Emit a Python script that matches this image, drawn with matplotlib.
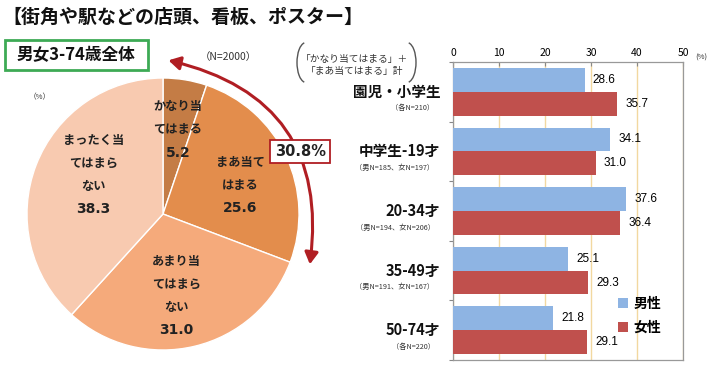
import numpy as np
import matplotlib
matplotlib.use("Agg")
import matplotlib.pyplot as plt
from matplotlib.patches import Rectangle, Arc, FancyArrowPatch
from matplotlib.transforms import blended_transform_factory

plt.rcParams['font.family'] = ['Noto Sans CJK JP', 'DejaVu Sans']

# ---- data ----
pie_labels = ["かなり当\nてはまる", "まあ当て\nはまる", "あまり当\nてはまら\nない", "まったく当\nてはまら\nない"]
pie_values = [5.2, 25.6, 31.0, 38.3]
pie_colors = ["#C47C45", "#E38D4C", "#F5AA7B", "#F8CAB0"]
pie_text_pos = [(0.11, 0.62), (0.57, 0.21), (0.10, -0.60), (-0.51, 0.29)]
top2_total = "30.8%"

groups = ["園児・小学生", "中学生-19才", "20-34才", "35-49才", "50-74才"]
group_n = ["（各N=210）", "（男N=185、女N=197）", "（男N=194、女N=206）",
           "（男N=191、女N=167）", "（各N=220）"]
male = [28.6, 34.1, 37.6, 25.1, 21.8]
female = [35.7, 31.0, 36.4, 29.3, 29.1]

W, H = 710, 375
fig = plt.figure(figsize=(W / 100, H / 100), dpi=100)

# ---- pie ----
cx, cy, rpx = 163, 214, 136
L = 1.19
side = 2 * L * rpx
axp = fig.add_axes([(cx - side / 2) / W, (H - cy - side / 2) / H, side / W, side / H])
axp.pie(pie_values, colors=pie_colors, startangle=90, counterclock=False, radius=1,
        wedgeprops=dict(edgecolor="white", linewidth=1))
axp.set_xlim(-L, L)
axp.set_ylim(-L, L)
axp.set_aspect('auto')
axp.axis('off')

dy = 23 / rpx  # line step in pie units
for lab, v, (tx, ty) in zip(pie_labels, pie_values, pie_text_pos):
    lines = lab.split("\n")
    n = len(lines) + 1
    y0 = ty + dy * (n - 1) / 2
    for i, ln in enumerate(lines):
        axp.text(tx, y0 - i * dy, ln, ha='center', va='center', fontsize=8.8,
                 fontweight='bold', color="#222222")
    axp.text(tx, y0 - (n - 1) * dy, f"{v:.1f}", ha='center', va='center', fontsize=10,
             fontweight='bold', color="#222222", family=['DejaVu Sans'])

arrow = FancyArrowPatch((1.08, -0.37), (0.04, 1.13), connectionstyle="arc3,rad=0.45",
                        arrowstyle="<|-|>,head_length=7,head_width=4", color="#B01E23",
                        lw=2.2, clip_on=False, shrinkA=0, shrinkB=0)
axp.add_patch(arrow)
axp.text(1.01, 0.46, top2_total, ha='center', va='center', fontsize=10.5, fontweight='bold',
         color="#222222", zorder=5, family=['DejaVu Sans'],
         bbox=dict(boxstyle="square,pad=0.3", fc="white", ec="#B01E23", lw=1.3))

# ---- bars ----
bx0, bx1, by0, by1 = 453, 683, 62, 360
axb = fig.add_axes([bx0 / W, (H - by1) / H, (bx1 - bx0) / W, (by1 - by0) / H])
y = np.arange(len(groups)) + 0.5
bh = 0.4
axb.barh(y - bh / 2, male, height=bh, color="#8EB4E3", label="男性", zorder=3)
axb.barh(y + bh / 2, female, height=bh, color="#C0504D", label="女性", zorder=3)
for yi, m, f in zip(y, male, female):
    axb.text(m + 1.8, yi - bh / 2, f"{m:.1f}", va='center', ha='left', fontsize=8.5,
             family=['Liberation Sans', 'DejaVu Sans'])
    axb.text(f + 1.8, yi + bh / 2, f"{f:.1f}", va='center', ha='left', fontsize=8.5,
             family=['Liberation Sans', 'DejaVu Sans'])
axb.set_xlim(0, 50)
axb.set_ylim(len(groups), 0)
axb.set_xticks(np.arange(0, 51, 10))
axb.xaxis.tick_top()
axb.tick_params(axis='x', labelsize=7.5, length=3, direction='in', pad=3, color="#888888")
axb.set_yticks(np.arange(0, len(groups) + 1))
axb.set_yticklabels([])
axb.tick_params(axis='y', length=3, direction='out', color="#888888")
axb.grid(axis='x', color="#F2D8A0", lw=1, zorder=0)
for s in axb.spines.values():
    s.set_color("#999999")
    s.set_linewidth(0.9)

tr = blended_transform_factory(axb.transAxes, axb.transData)
for yi, g, n in zip(y, groups, group_n):
    axb.text(-0.055, yi, g, transform=tr, ha='right', va='center', fontsize=10.5,
             fontweight='bold', color="#111111")
    axb.text(-0.08, yi + 0.28, n, transform=tr, ha='right', va='center', fontsize=5.2,
             color="#333333")
leg = axb.legend(loc='upper left', bbox_to_anchor=(0.665, 0.255), frameon=False,
                 handlelength=0.7, handleheight=0.7, handletextpad=0.4, labelspacing=0.75,
                 prop=dict(weight='bold', size=10))

# ---- overlay texts ----
ov = fig.add_axes([0, 0, 1, 1], zorder=10)
ov.set_xlim(0, W)
ov.set_ylim(H, 0)
ov.axis('off')
ov.patch.set_alpha(0)
ov.text(2, 17, "【街角や駅などの店頭、看板、ポスター】", fontsize=13.7, fontweight='bold',
        va='center', ha='left', color="#111111")
ov.add_patch(Rectangle((5, 40), 143, 30, fill=False, ec="#3DAA55", lw=2))
ov.text(76, 55, "男女3-74歳全体", fontsize=12, fontweight='bold', ha='center', va='center',
        color="#111111")
ov.text(228, 57, "（N=2000）", fontsize=7.5, ha='center', va='center', color="#333333")
ov.text(40, 97, "（%）", fontsize=5.5, ha='center', va='center', color="#333333")
ov.text(701, 58, "(%)", fontsize=5.5, ha='center', va='center', color="#333333")
ov.text(354, 65, "「かなり当てはまる」＋\n「まあ当てはまる」計", fontsize=7, ha='center',
        va='center', color="#333333", linespacing=1.3)
ov.add_patch(Arc((306, 62.5), 18, 40, theta1=95, theta2=265, color="#555555", lw=1))
ov.add_patch(Arc((407, 62.5), 18, 40, theta1=-85, theta2=85, color="#555555", lw=1))

fig.savefig("out.png", dpi=100)
